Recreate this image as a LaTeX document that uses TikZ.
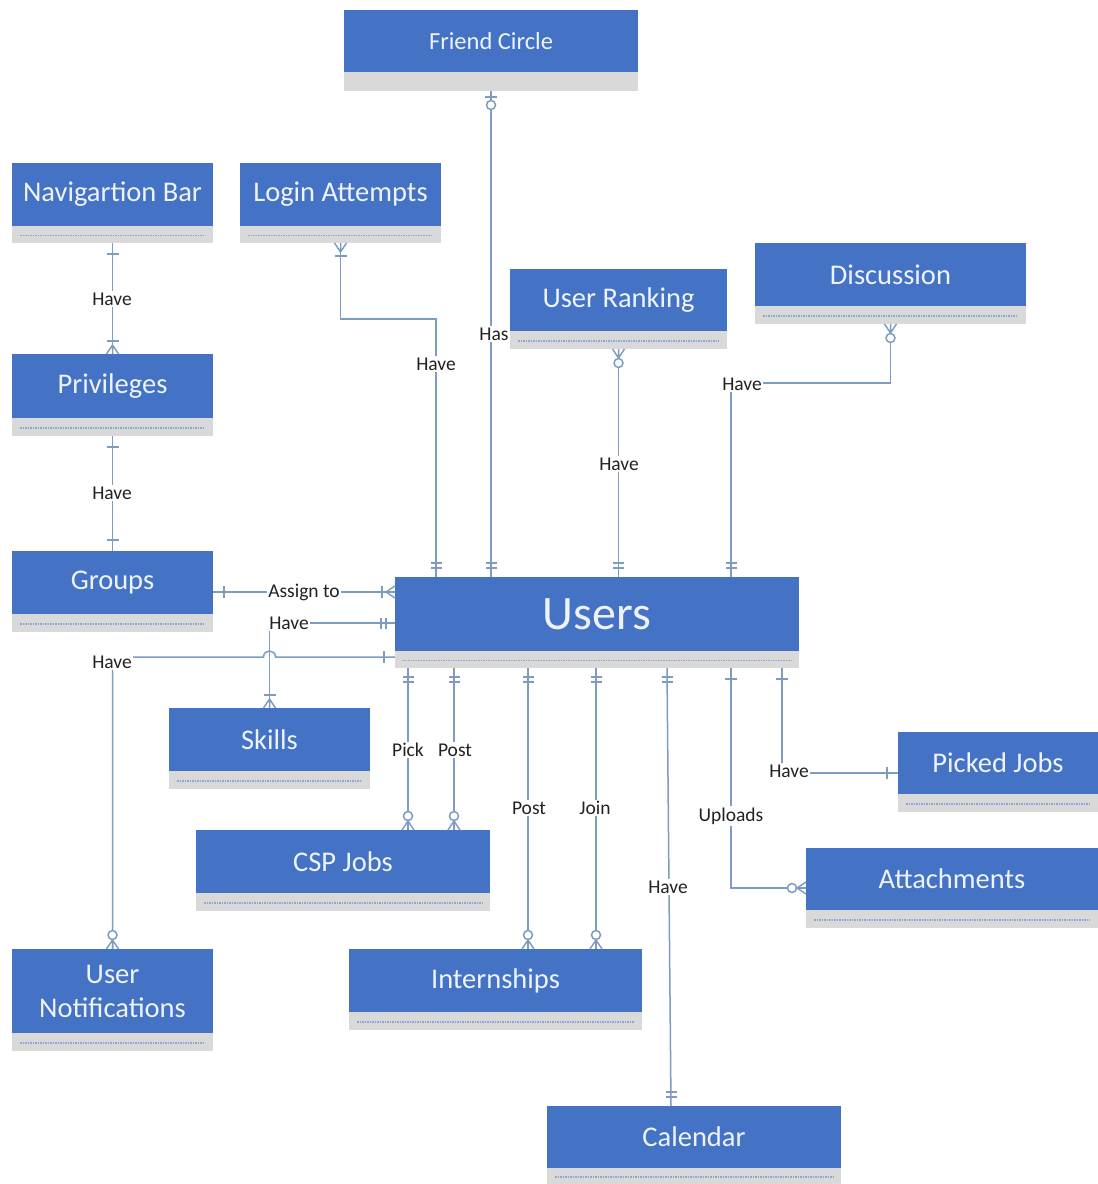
\documentclass[tikz,border=0pt]{standalone}
\usepackage{fontspec}
\setmainfont{Carlito}
\usetikzlibrary{calc}
\definecolor{eblue}{HTML}{4472C4}
\definecolor{etext}{HTML}{EEF3FB}
\definecolor{efoot}{HTML}{D9D9D9}
\definecolor{edash}{HTML}{8AA6D4}
\definecolor{lcol}{HTML}{7E9CC2}
\definecolor{ltext}{HTML}{222222}
\tikzset{
  ent/.style={fill=eblue, draw=none, text=etext, inner sep=0pt, outer sep=0pt, align=center},
  foot/.style={fill=efoot, draw=none, inner sep=0pt, outer sep=0pt},
  fdash/.style={draw=edash, line width=1.1pt, dash pattern=on 1.6pt off 0.9pt},
  conn/.style={draw=lcol, line width=1.5pt},
  lbl/.style={fill=white, inner sep=1.2pt, text=ltext, font=\fontsize{19.5}{21}\selectfont},
  pics/one/.style={code={\draw[conn] (11,-6)--(11,6);}},
  pics/two/.style={code={\draw[conn] (9,-5.5)--(9,5.5) (14,-5.5)--(14,5.5);}},
  pics/zone/.style={code={\draw[conn] (6,-6)--(6,6); \draw[conn, fill=white] (14,0) circle[radius=4.5pt];}},
  pics/zmany/.style={code={\draw[conn] (0,-6)--(9,0) (0,6)--(9,0) (0,0)--(9,0); \draw[conn, fill=white] (14,0) circle[radius=4.5pt];}},
  pics/omany/.style={code={\draw[conn] (0,-6)--(9,0) (0,6)--(9,0) (0,0)--(9,0); \draw[conn] (13,-6)--(13,6);}},
}
% name, x1, y1, x2, y2 (blue bottom), y3 (footer bottom), font size, text
\newcommand\entity[8]{%
  \node[ent, minimum width={(#4-#2)*1pt}, minimum height={(#5-#3)*1pt},
        font=\fontsize{#7}{34}\selectfont] (#1) at ({(#2+#4)/2},{(#3+#5)/2}) {#8};
  \node[foot, minimum width={(#4-#2)*1pt}, minimum height={(#6-#5)*1pt}, anchor=north] (#1F) at (#1.south) {};
}
\begin{document}
\begin{tikzpicture}[x=1pt, y=-1pt]
\useasboundingbox[fill=white] (0,0) rectangle (1098,1184);

\entity{fc}{344}{10}{638}{72}{91}{24.5}{Friend Circle}
\entity{nav}{12}{163}{213}{226}{243}{28.5}{Navigartion Bar}
\entity{login}{240}{163}{441}{226}{243}{28.5}{Login Attempts}
\entity{rank}{510}{269}{727}{331}{349}{28.5}{User Ranking}
\entity{disc}{755}{243}{1026}{306}{324}{28.5}{Discussion}
\entity{priv}{12}{354}{213}{418}{436}{28.5}{Privileges}
\entity{grp}{12}{551}{213}{614}{632}{28.5}{Groups}
\entity{users}{395}{577}{799}{651}{668}{48}{Users}
\entity{skills}{169}{708}{370}{771}{789}{28.5}{Skills}
\entity{picked}{898}{732}{1098}{794}{812}{28.5}{Picked Jobs}
\entity{csp}{196}{830}{490}{893}{911}{28.5}{CSP Jobs}
\entity{att}{806}{848}{1098}{910}{928}{28.5}{Attachments}
\entity{notif}{12}{949}{213}{1033}{1051}{28.5}{User\\Notifications}
\entity{intern}{349}{949}{642}{1012}{1030}{28.5}{Internships}
\entity{cal}{547}{1106}{841}{1168}{1184}{28.5}{Calendar}

\foreach \n in {nav,login,rank,disc,priv,grp,users,skills,picked,csp,att,notif,intern,cal}
  \draw[fdash] ([xshift=8pt,yshift=-1pt]\n F.west) -- ([xshift=-8pt,yshift=-1pt]\n F.east);

% attachment points on Users
\coordinate (uFC) at (fcF.south |- users.north);
\coordinate (uLA) at ([xshift=41pt]users.north west);
\coordinate (uUR) at (rankF.south |- users.north);
\coordinate (uDi) at ([xshift=336pt]users.north west);
\coordinate (uG) at (users.west |- 0,592);
\coordinate (uS) at (users.west |- 0,623);
\coordinate (uN) at (users.west |- 0,657);
\coordinate (uP1) at ([xshift=13pt]usersF.south west);
\coordinate (uP2) at ([xshift=59pt]usersF.south west);
\coordinate (uI1) at ([xshift=133pt]usersF.south west);
\coordinate (uI2) at ([xshift=201pt]usersF.south west);
\coordinate (uC) at ([xshift=272pt]usersF.south west);
\coordinate (uA) at ([xshift=336pt]usersF.south west);
\coordinate (uPJ) at ([xshift=387pt]usersF.south west);
\coordinate (cT) at ([xshift=-23pt]cal.north);

% connectors
\draw[conn] (fcF.south) -- (uFC);
\draw[conn] (loginF.south) -- (loginF.south |- 0,319) -| (uLA);
\draw[conn] (rankF.south) -- (uUR);
\draw[conn] (discF.south) |- (uDi |- 0,383) -- (uDi);
\draw[conn] (navF.south) -- (priv.north);
\draw[conn] (privF.south) -- (grp.north);
\draw[conn] (grp.east |- uG) -- (uG);
\draw[conn] (skills.north) |- (uS);
\draw[conn] (uN) -- (275.5,657) .. controls (275.5,649) and (263.5,649) .. (263.5,657) -- (notif.north |- uN) -- (notif.north);
\draw[conn] (uP1) -- (uP1 |- csp.north);
\draw[conn] (uP2) -- (uP2 |- csp.north);
\draw[conn] (uI1) -- (uI1 |- intern.north);
\draw[conn] (uI2) -- (uI2 |- intern.north);
\draw[conn] (uC) -- (cT);
\draw[conn] (uA) |- (att.west |- 0,888);
\draw[conn] (uPJ) |- (picked.west |- 0,773);

% end marks
\pic[rotate=-90] at (fcF.south) {zone};     \pic[rotate=90] at (uFC) {two};
\pic[rotate=-90] at (loginF.south) {omany}; \pic[rotate=90] at (uLA) {two};
\pic[rotate=-90] at (rankF.south) {zmany};  \pic[rotate=90] at (uUR) {two};
\pic[rotate=-90] at (discF.south) {zmany};  \pic[rotate=90] at (uDi) {two};
\pic[rotate=-90] at (navF.south) {one};     \pic[rotate=90] at (priv.north) {omany};
\pic[rotate=-90] at (privF.south) {one};    \pic[rotate=90] at (grp.north) {one};
\pic at (grp.east |- uG) {one};             \pic[rotate=180] at (uG) {omany};
\pic[rotate=90] at (skills.north) {omany};  \pic[rotate=180] at (uS) {two};
\pic[rotate=180] at (uN) {one};             \pic[rotate=90] at (notif.north) {zmany};
\pic[rotate=-90] at (uP1) {two};            \pic[rotate=90] at (uP1 |- csp.north) {zmany};
\pic[rotate=-90] at (uP2) {two};            \pic[rotate=90] at (uP2 |- csp.north) {zmany};
\pic[rotate=-90] at (uI1) {two};            \pic[rotate=90] at (uI1 |- intern.north) {zmany};
\pic[rotate=-90] at (uI2) {two};            \pic[rotate=90] at (uI2 |- intern.north) {zmany};
\pic[rotate=-90] at (uC) {two};             \pic[rotate=90] at (cT) {two};
\pic[rotate=-90] at (uA) {one};             \pic[rotate=180] at (att.west |- 0,888) {zmany};
\pic[rotate=-90] at (uPJ) {one};            \pic[rotate=180] at (picked.west |- 0,773) {one};

% labels
\node[lbl] (l1) at (494,334) {Has};
\node[lbl] (l2) at (436,364) {Have};
\node[lbl] (l3) at (619,464) {Have};
\node[lbl] (l4) at (742,384) {Have};
\node[lbl] (l5) at (112,299) {Have};
\node[lbl] (l6) at (112,493) {Have};
\node[lbl] (l7) at (304,592) {Assign to};
\node[lbl] (l8) at (289,623) {Have};
\node[lbl] (l9) at (112,662) {Have};
\node[lbl] (l10) at (408,750) {Pick};
\node[lbl] (l11) at (455,750) {Post};
\node[lbl] (l12) at (529,808) {Post};
\node[lbl] (l13) at (595,808) {Join};
\node[lbl] (l14) at (668,887) {Have};
\node[lbl] (l15) at (731,816) {Uploads};
\node[lbl] (l16) at (789,771) {Have};
\end{tikzpicture}
\end{document}
